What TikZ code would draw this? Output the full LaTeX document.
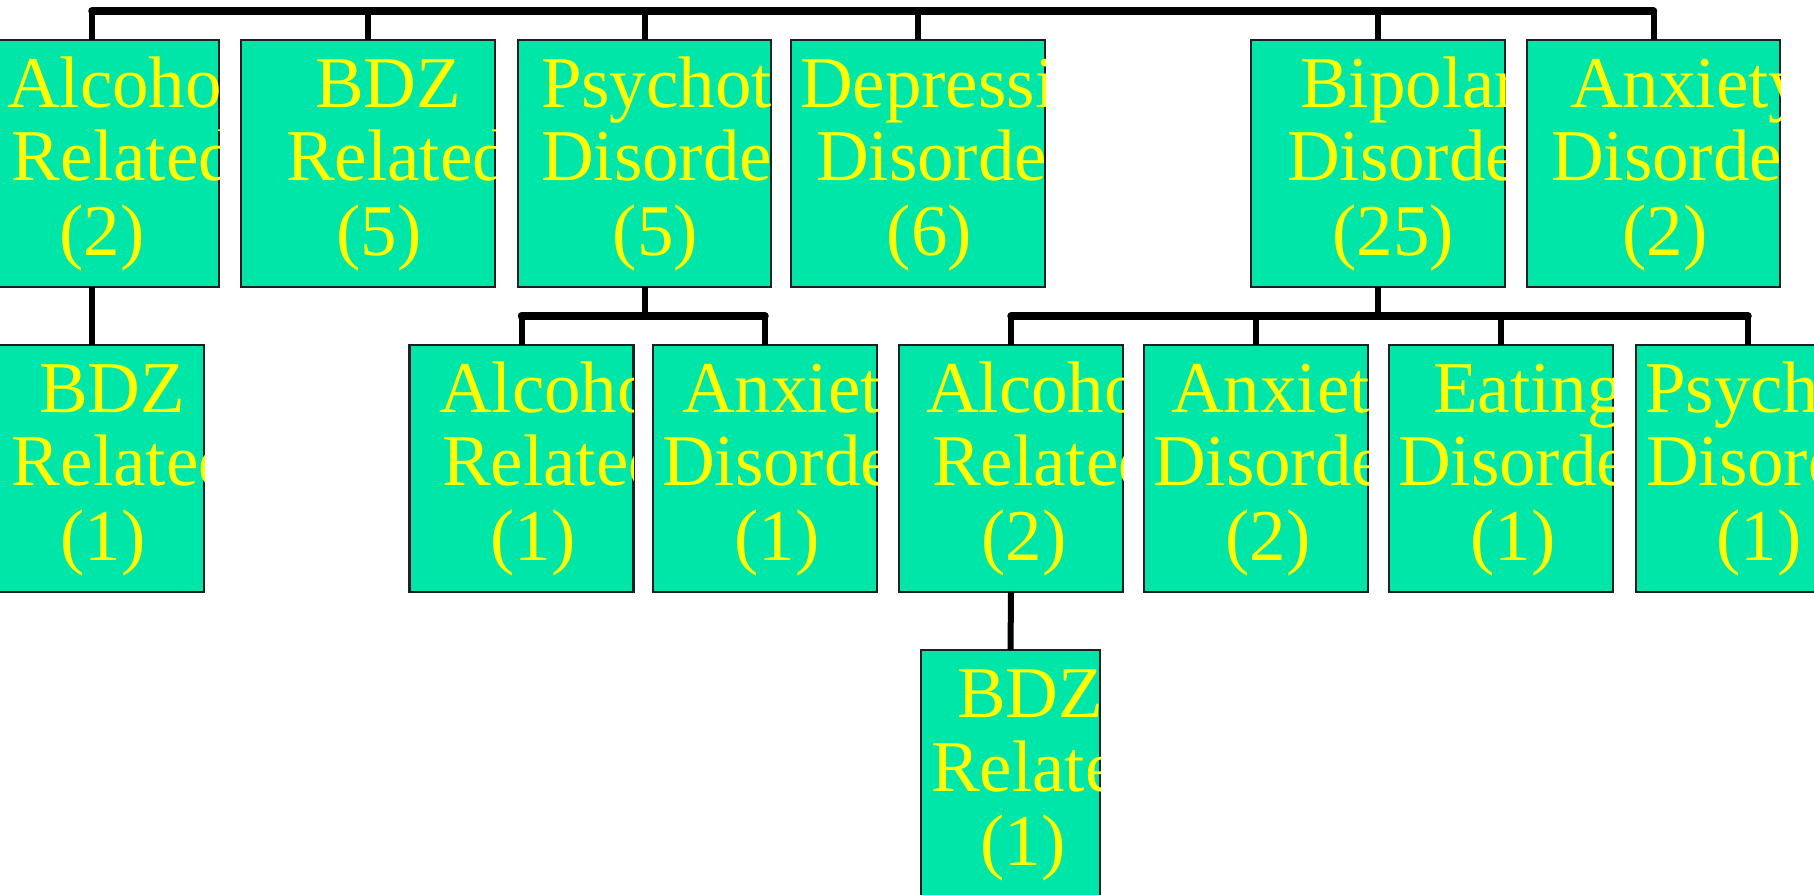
\documentclass[tikz,border=0pt]{standalone}
\usepackage{fontspec}
\setmainfont{Liberation Serif}
\definecolor{boxgreen}{HTML}{00E6A9}
\definecolor{txtyellow}{HTML}{FFFF00}
\tikzset{
  orgbox/.style={draw=black!88, line width=2.3pt, fill=boxgreen, inner sep=0pt, outer sep=0pt, minimum height=247pt},
  lbl/.style={text=txtyellow, font=\fontsize{73}{74}\selectfont, inner sep=0pt, outer sep=0pt},
  busline/.style={line width=7.5pt, line cap=round, draw=black},
  drop/.style={line width=6pt, draw=black}
}
\begin{document}
\begin{tikzpicture}[x=1pt, y=-1pt]
\useasboundingbox (0,0) rectangle (1814,894);
\clip (0,0) rectangle (1814,894);

% ---------- boxes ----------
% top row
\node[orgbox, minimum width=254pt] (b1) at (92,163.5) {};
\node[orgbox, minimum width=254pt] (b2) at (368,163.5) {};
\node[orgbox, minimum width=253pt] (b3) at (644.5,163.5) {};
\node[orgbox, minimum width=254pt] (b4) at (918,163.5) {};
\node[orgbox, minimum width=254pt] (b5) at (1378,163.5) {};
\node[orgbox, minimum width=253pt] (b6) at (1653.5,163.5) {};
% second row
\node[orgbox, minimum width=224pt] (c1) at (92,468.5) {};
\node[orgbox, minimum width=224pt] (c2) at (521.5,468.5) {};
\node[orgbox, minimum width=224pt] (c3) at (765,468.5) {};
\node[orgbox, minimum width=224pt] (c4) at (1011,468.5) {};
\node[orgbox, minimum width=224pt] (c5) at (1256,468.5) {};
\node[orgbox, minimum width=224pt] (c6) at (1501,468.5) {};
\node[orgbox, minimum width=224pt] (c7) at (1748,468.5) {};
% third row
\node[orgbox, minimum width=179pt] (d1) at (1010.5,773.5) {};

% ---------- connectors ----------
\coordinate (topbus) at (0,11);
\coordinate (midbus) at (0,316);
\draw[drop] (b1.north) -- (b1.north |- topbus);
\draw[drop] (b2.north) -- (b2.north |- topbus);
\draw[drop] (b3.north) -- (b3.north |- topbus);
\draw[drop] (b4.north) -- (b4.north |- topbus);
\draw[drop] (b5.north) -- (b5.north |- topbus);
\draw[drop] (b6.north) -- (b6.north |- topbus);
\draw[busline] (b1.north |- topbus) -- (b6.north |- topbus);

\draw[drop] (b1.south) -- (c1.north);

\draw[drop] (b3.south) -- (b3.south |- midbus);
\draw[drop] (c2.north) -- (c2.north |- midbus);
\draw[drop] (c3.north) -- (c3.north |- midbus);
\draw[busline] (c2.north |- midbus) -- (c3.north |- midbus);

\draw[drop] (b5.south) -- (b5.south |- midbus);
\draw[drop] (c4.north) -- (c4.north |- midbus);
\draw[drop] (c5.north) -- (c5.north |- midbus);
\draw[drop] (c6.north) -- (c6.north |- midbus);
\draw[drop] (c7.north) -- (c7.north |- midbus);
\draw[busline] (c4.north |- midbus) -- (c7.north |- midbus);

\draw[drop] (c4.south) -- (d1.north);

% ---------- labels (clipped to their boxes) ----------
\begin{scope}
\clip (b1.south west) rectangle (b1.north east);
\node[lbl, anchor=base west] (b1l1) at (7,107) {Alcohol};
\node[lbl, anchor=base west] (b1l2) at (12,180) {Related};
\node[lbl, anchor=base] (b1l3) at (102,255) {(2)};
\end{scope}
\begin{scope}
\clip (b2.south west) rectangle (b2.north east);
\node[lbl, anchor=base] (b2l1) at (388,107) {BDZ};
\node[lbl, anchor=base west] (b2l2) at (286,180) {Related};
\node[lbl, anchor=base] (b2l3) at (379,255) {(5)};
\end{scope}
\begin{scope}
\clip (b3.south west) rectangle (b3.north east);
\node[lbl, anchor=base west] (b3l1) at (541,107) {Psychotic};
\node[lbl, anchor=base west] (b3l2) at (541,180) {Disorder};
\node[lbl, anchor=base] (b3l3) at (655.5,255) {(5)};
\end{scope}
\begin{scope}
\clip (b4.south west) rectangle (b4.north east);
\node[lbl, anchor=base west] (b4l1) at (800,107) {Depressive};
\node[lbl, anchor=base west] (b4l2) at (816,180) {Disorder};
\node[lbl, anchor=base] (b4l3) at (929.5,255) {(6)};
\end{scope}
\begin{scope}
\clip (b5.south west) rectangle (b5.north east);
\node[lbl, anchor=base west] (b5l1) at (1300,107) {Bipolar};
\node[lbl, anchor=base west] (b5l2) at (1287,180) {Disorder};
\node[lbl, anchor=base] (b5l3) at (1393,255) {(25)};
\end{scope}
\begin{scope}
\clip (b6.south west) rectangle (b6.north east);
\node[lbl, anchor=base west] (b6l1) at (1570,107) {Anxiety};
\node[lbl, anchor=base west] (b6l2) at (1551,180) {Disorder};
\node[lbl, anchor=base] (b6l3) at (1665,255) {(2)};
\end{scope}

\begin{scope}
\clip (c1.south west) rectangle (c1.north east);
\node[lbl, anchor=base] (c1l1) at (112,412) {BDZ};
\node[lbl, anchor=base west] (c1l2) at (12,485) {Related};
\node[lbl, anchor=base] (c1l3) at (103,560) {(1)};
\end{scope}
\begin{scope}
\clip (c2.south west) rectangle (c2.north east);
\node[lbl, anchor=base west] (c2l1) at (439,412) {Alcohol};
\node[lbl, anchor=base west] (c2l2) at (442,485) {Related};
\node[lbl, anchor=base] (c2l3) at (533,560) {(1)};
\end{scope}
\begin{scope}
\clip (c3.south west) rectangle (c3.north east);
\node[lbl, anchor=base west] (c3l1) at (682,412) {Anxiety};
\node[lbl, anchor=base west] (c3l2) at (662,485) {Disorder};
\node[lbl, anchor=base] (c3l3) at (777,560) {(1)};
\end{scope}
\begin{scope}
\clip (c4.south west) rectangle (c4.north east);
\node[lbl, anchor=base west] (c4l1) at (926,412) {Alcohol};
\node[lbl, anchor=base west] (c4l2) at (932,485) {Related};
\node[lbl, anchor=base] (c4l3) at (1024,560) {(2)};
\end{scope}
\begin{scope}
\clip (c5.south west) rectangle (c5.north east);
\node[lbl, anchor=base west] (c5l1) at (1171,412) {Anxiety};
\node[lbl, anchor=base west] (c5l2) at (1153,485) {Disorder};
\node[lbl, anchor=base] (c5l3) at (1268,560) {(2)};
\end{scope}
\begin{scope}
\clip (c6.south west) rectangle (c6.north east);
\node[lbl, anchor=base west] (c6l1) at (1433,412) {Eating};
\node[lbl, anchor=base west] (c6l2) at (1398,485) {Disorder};
\node[lbl, anchor=base] (c6l3) at (1513,560) {(1)};
\end{scope}
\begin{scope}
\clip (c7.south west) rectangle (c7.north east);
\node[lbl, anchor=base west] (c7l1) at (1645,412) {Psychotic};
\node[lbl, anchor=base west] (c7l2) at (1646,485) {Disorder};
\node[lbl, anchor=base] (c7l3) at (1759,560) {(1)};
\end{scope}

\begin{scope}
\clip (d1.south west) rectangle (d1.north east);
\node[lbl, anchor=base] (d1l1) at (1030,717) {BDZ};
\node[lbl, anchor=base west] (d1l2) at (931,791) {Related};
\node[lbl, anchor=base] (d1l3) at (1023,865) {(1)};
\end{scope}
\end{tikzpicture}
\end{document}
